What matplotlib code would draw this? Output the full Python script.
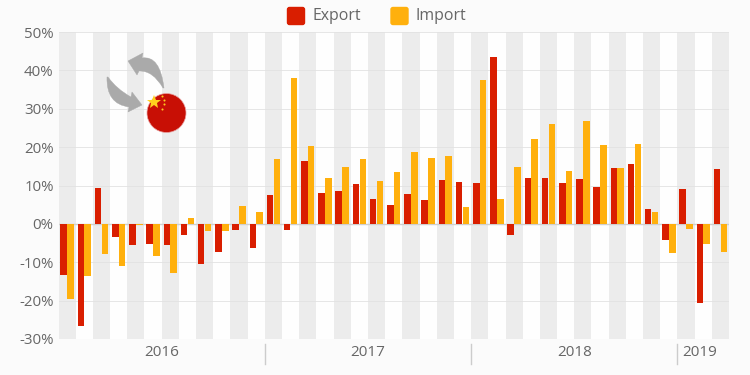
import numpy as np
import matplotlib
matplotlib.use("Agg")
import matplotlib.pyplot as plt
from matplotlib.patches import Circle, FancyBboxPatch, PathPatch
from matplotlib.path import Path

# y/y change per month, Jan 2016 - Mar 2019
export = [-13.2, -26.7, 9.3, -3.5, -5.4, -5.3, -5.5, -2.9, -10.4, -7.4, -1.6, -6.2,
          7.5, -1.7, 16.4, 8.0, 8.6, 10.3, 6.5, 4.9, 7.9, 6.3, 11.5, 10.9,
          10.6, 43.5, -2.9, 12.0, 12.0, 10.7, 11.6, 9.5, 14.5, 15.6, 3.9, -4.3,
          9.0, -20.7, 14.2]
imports = [-19.6, -13.6, -7.8, -11.0, -0.3, -8.4, -12.7, 1.6, -1.9, -1.9, 4.7, 3.1,
           16.8, 38.0, 20.3, 11.9, 14.8, 16.9, 11.1, 13.4, 18.8, 17.1, 17.7, 4.5,
           37.5, 6.5, 14.8, 22.0, 26.0, 13.8, 26.8, 20.6, 14.5, 20.7, 3.0, -7.5,
           -1.4, -5.2, -7.4]
years = ['2016', '2017', '2018', '2019']
year_pos = [5.5, 17.5, 29.5, 36.8]
year_breaks = [11.5, 23.5, 35.5]
yticks = [-30, -20, -10, 0, 10, 20, 30, 40, 50]

RED = '#d91e00'
YEL = '#ffb00d'
GREY = '#666666'
plt.rcParams['font.family'] = ['Open Sans', 'DejaVu Sans']

fig = plt.figure(figsize=(7.5, 3.75), dpi=100, facecolor='#fbfbfb')

# main axes, pixel box 58.5-729 / 32-339
ax = fig.add_axes([58.5/750, 1-339/375, (729-58.5)/750, (339-32)/375])
ax.set_facecolor('#fefefe')
n = len(export)
x = np.arange(n)
for i in x[::2]:
    ax.axvspan(i-0.5, i+0.5, color='#ececec', lw=0, zorder=0)
ax.bar(x-0.2, export, width=0.38, color=RED, zorder=3)
ax.bar(x+0.2, imports, width=0.38, color=YEL, zorder=3)
ax.set_xlim(-0.5, n-0.5)
ax.set_ylim(-30, 50)
ax.set_yticks(yticks)
ax.set_yticklabels([f'{v}%' for v in yticks], fontsize=10.8, color=GREY)
ax.set_xticks([])
ax.tick_params(axis='y', length=0, pad=3.5)
ax.grid(axis='y', color='#e2e2e2', lw=0.6, zorder=1)
ax.axhline(0, color='#cfcfcf', lw=1, zorder=2)
for s in ax.spines.values():
    s.set_visible(False)

# years under the axis
trans = ax.get_xaxis_transform()
for lab, p in zip(years, year_pos):
    ax.text(p, -0.045, lab, transform=trans, ha='center', va='center', fontsize=11, color=GREY)
for b in year_breaks:
    ax.plot([b, b], [-0.015, -0.08], transform=trans, color='#cccccc', lw=1, clip_on=False)

# overlay in pixels for legend and icon
ov = fig.add_axes([0, 0, 1, 1], zorder=5)
ov.set_xlim(0, 750)
ov.set_ylim(375, 0)
ov.axis('off')
ov.patch.set_alpha(0)

for px, col, lab in [(287, RED, 'Export'), (390.5, YEL, 'Import')]:
    ov.add_patch(FancyBboxPatch((px+0.5, 7.5), 17, 17, boxstyle='round,pad=0,rounding_size=2', fc=col, ec=col, lw=1))
    ov.text(px+25, 15.5, lab, ha='left', va='center', fontsize=11.4, color=GREY)

codes = [Path.MOVETO, Path.CURVE3, Path.CURVE3, Path.LINETO, Path.LINETO, Path.LINETO,
         Path.LINETO, Path.CURVE3, Path.CURVE3, Path.CLOSEPOLY]
arrow1 = [(164, 88), (160, 55), (142, 58), (143, 53), (128, 61), (137, 75), (139, 71),
          (153, 70.5), (163, 88), (164, 88)]
arrow2 = [(107, 77), (106, 104), (129, 107), (128, 112), (142, 105), (132, 92), (131, 97),
          (116.5, 89), (108, 77), (107, 77)]
for pts in (arrow1, arrow2):
    ov.add_patch(PathPatch(Path(pts, codes), fc='#aaaaaa', ec='#aaaaaa', lw=0.3))
ov.add_patch(Circle((166.5, 113), 19.5, fc='#c80f05', ec='#e8a0a0', lw=0.5))
ov.plot([154], [102], marker='*', ms=10, color='#ffd21e', mew=0)
ov.plot([162, 164, 164, 162], [96, 100, 104, 109], ls='', marker='o', ms=1.5, color='#ffc81e', mew=0)

fig.savefig('out.png', dpi=100, facecolor=fig.get_facecolor())
